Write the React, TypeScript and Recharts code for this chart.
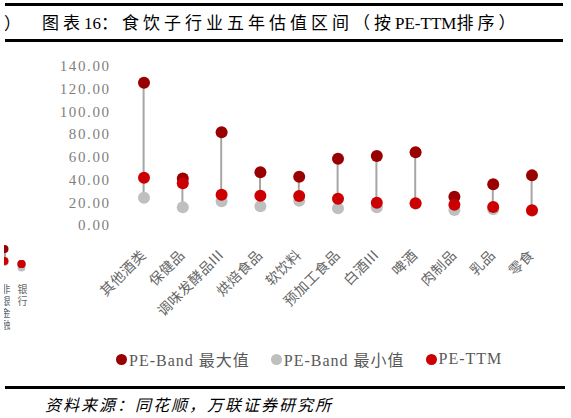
import { ComposedChart, Bar, Line, XAxis, YAxis, Legend } from 'recharts'

const categories = ['其他酒类', '保健品', '调味发酵品III', '烘焙食品', '软饮料', '预加工食品', '白酒III', '啤酒', '肉制品', '乳品', '零食']
const bandMax = [125.3, 41, 81.6, 46.4, 42.5, 58.4, 60.7, 64, 24.9, 35.8, 43.7]
const bandMin = [24, 15.6, 21, 16.5, 21.4, 14.7, 15.6, 18.8, 13.2, 13.8, 12.6]
const peTtm = [41.6, 36.7, 26.7, 25.8, 25.5, 23.2, 19.6, 19.1, 17.9, 15.8, 12.9]
const yTicks = [0, 20, 40, 60, 80, 100, 120, 140]

// piece of the neighbouring chart that is cut off at the left edge
const sideCategories = ['非银金融', '银行']
const sideMax = [29, 14]
const sideMin = [16, 10.5]
const sideTtm = [17, 14]

const SERIF = '"Liberation Serif", "Noto Sans CJK SC", serif'
const CJK = '"Noto Sans CJK SC", "Liberation Serif", serif'

const MAX_COLOR = '#990000'
const MIN_COLOR = '#BFBFBF'
const TTM_COLOR = '#CC0000'
const RANGE_COLOR = '#A6A6A6'

const data = categories.map((name, i) => ({
  name,
  max: bandMax[i],
  min: bandMin[i],
  ttm: peTtm[i],
  range: [bandMin[i], bandMax[i]],
}))

const sideData = sideCategories.map((name, i) => ({
  name,
  max: sideMax[i],
  min: sideMin[i],
  ttm: sideTtm[i],
  range: [sideMin[i], sideMax[i]],
}))

const dotSeries = (key: string, name: string, color: string, r: number) => (
  <Line
    key={key}
    dataKey={key}
    name={name}
    stroke={color}
    strokeWidth={0}
    dot={{ r, fill: color, stroke: 'none' }}
    activeDot={false}
    legendType="circle"
    isAnimationActive={false}
  />
)

const CategoryTick = ({ x, y, payload }: any) => {
  const ax = x + 3
  const ay = y + 23
  return (
    <text
      x={ax}
      y={ay}
      transform={`rotate(-45 ${ax} ${ay})`}
      textAnchor="end"
      fontSize={14}
      fontFamily={CJK}
      fill="#666666"
      letterSpacing={0.5}
    >
      {payload.value}
    </text>
  )
}

// vertical writing for the narrow side chart
const VerticalTick = ({ x, y, payload }: any) => (
  <text
    x={x + 1}
    y={y - 2}
    fontSize={10}
    fontFamily={CJK}
    fill="#666666"
    letterSpacing={2}
    style={{ writingMode: 'vertical-rl' }}
  >
    {payload.value}
  </text>
)

const LegendContent = ({ payload }: any) => (
  <div
    style={{
      display: 'flex',
      gap: 21,
      fontFamily: SERIF,
      fontSize: 16,
      letterSpacing: 1,
      color: '#595959',
    }}
  >
    {(payload ?? [])
      .filter((p: any) => p.type !== 'none')
      .map((p: any) => (
        <span key={p.value} style={{ display: 'flex', alignItems: 'center', whiteSpace: 'pre' }}>
          <span
            style={{ width: 11, height: 11, borderRadius: 6, background: p.color, marginRight: 2 }}
          />
          {p.value}
        </span>
      ))}
  </div>
)

export default function App() {
  return (
    <div
      style={{
        position: 'absolute',
        left: 0,
        top: 0,
        width: 571,
        height: 418,
        background: '#fff',
        overflow: 'hidden',
      }}
    >
      <div style={{ position: 'absolute', left: 5, top: 3, width: 558, height: 3, background: '#000' }} />
      <div style={{ position: 'absolute', left: 4, top: 10, fontFamily: CJK, fontSize: 17 }}>）</div>
      <div
        style={{
          position: 'absolute',
          left: 42,
          top: 9,
          fontFamily: SERIF,
          fontSize: 17,
          letterSpacing: 4,
          whiteSpace: 'nowrap',
          color: '#000',
        }}
      >
        图表<span style={{ letterSpacing: 0 }}>16</span>：食饮子行业五年估值区间（按
        <span style={{ letterSpacing: 0 }}>PE-TTM</span>排序）
      </div>
      <div style={{ position: 'absolute', left: 5, top: 39, width: 558, height: 3, background: '#000' }} />

      <div style={{ position: 'absolute', left: 3.5, top: 238, width: 40, height: 100, overflow: 'hidden' }}>
        <div style={{ position: 'absolute', left: -8, top: 0 }}>
          <ComposedChart width={34} height={100} data={sideData} margin={{ top: 0, right: 0, bottom: 0, left: 0 }}>
            <XAxis dataKey="name" interval={0} axisLine={false} tickLine={false} height={60} tick={<VerticalTick />} />
            <YAxis hide domain={[0, 40]} />
            <Bar dataKey="range" barSize={2} fill={RANGE_COLOR} legendType="none" isAnimationActive={false} />
            {dotSeries('min', 'min', MIN_COLOR, 4)}
            {dotSeries('max', 'max', MAX_COLOR, 4)}
            {dotSeries('ttm', 'ttm', TTM_COLOR, 4)}
          </ComposedChart>
        </div>
      </div>

      <div style={{ position: 'absolute', left: 0, top: 0 }}>
        <ComposedChart width={571} height={418} data={data} margin={{ top: 66, right: 19.6, bottom: 113, left: 0 }}>
          <XAxis
            dataKey="name"
            interval={0}
            axisLine={false}
            tickLine={false}
            height={80}
            tick={<CategoryTick />}
          />
          <YAxis
            width={124.6}
            domain={[0, 140]}
            ticks={yTicks}
            axisLine={false}
            tickLine={false}
            tickMargin={8}
            tickFormatter={(v) => Number(v).toFixed(2)}
            tick={{ fontSize: 15, fill: '#7F7F7F', fontFamily: SERIF, letterSpacing: 1.6 }}
          />
          <Legend
            verticalAlign="middle"
            align="center"
            itemSorter="value"
            content={<LegendContent />}
            wrapperStyle={{ top: 347, left: 116, width: 440 }}
          />
          <Bar dataKey="range" barSize={2} fill={RANGE_COLOR} legendType="none" isAnimationActive={false} />
          {dotSeries('min', 'PE-Band 最小值', MIN_COLOR, 6)}
          {dotSeries('max', 'PE-Band 最大值', MAX_COLOR, 6)}
          {dotSeries('ttm', 'PE-TTM', TTM_COLOR, 6)}
        </ComposedChart>
      </div>

      <div style={{ position: 'absolute', left: 5, top: 386, width: 560, height: 3, background: '#000' }} />
      <div
        style={{
          position: 'absolute',
          left: 45,
          top: 392,
          fontFamily: CJK,
          fontSize: 16,
          letterSpacing: 2,
          fontStyle: 'italic',
          whiteSpace: 'nowrap',
          color: '#000',
        }}
      >
        资料来源：同花顺，万联证券研究所
      </div>
    </div>
  )
}
